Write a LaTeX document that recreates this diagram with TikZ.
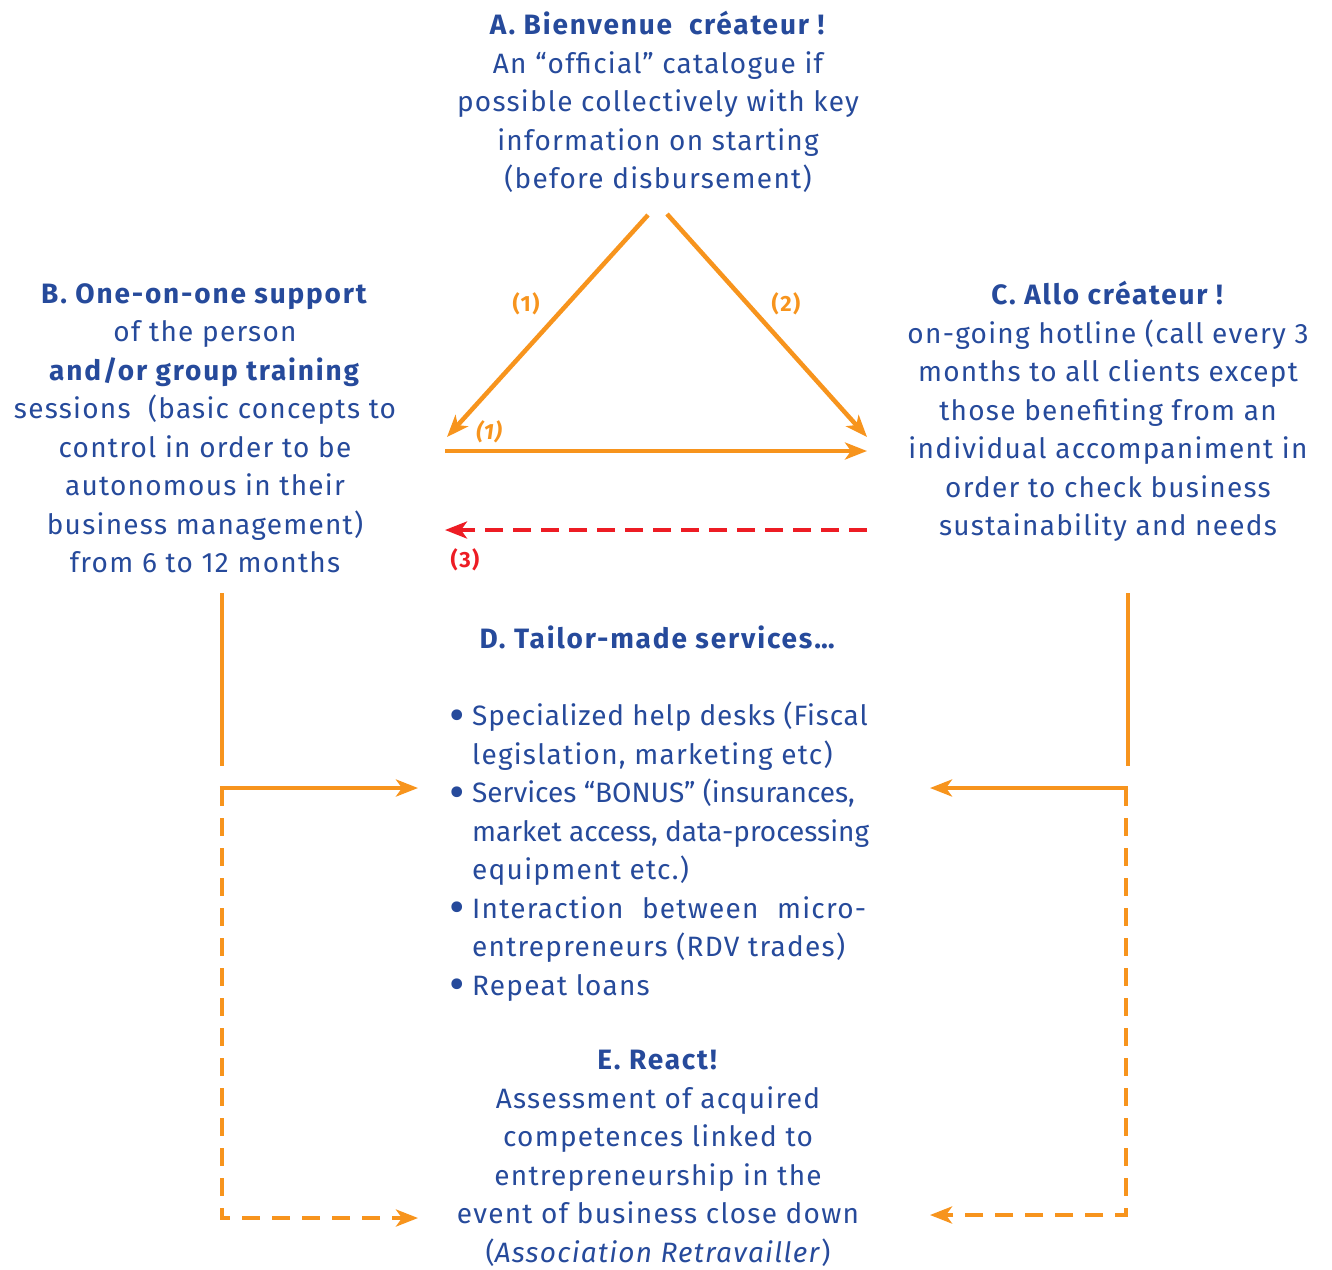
\documentclass[tikz,border=0pt]{standalone}
\usepackage{fontspec}
\setmainfont{Fira Sans}[LetterSpace=4.5,BoldFeatures={LetterSpace=6.5}]
\newfontfamily\tightfont{Fira Sans}[LetterSpace=0]
\newfontfamily\midfont{Fira Sans}[LetterSpace=3]
\usetikzlibrary{arrows.meta}
\definecolor{txtblue}{RGB}{38,74,155}
\definecolor{arrorange}{RGB}{247,148,29}
\definecolor{arrred}{RGB}{237,28,36}
\newcommand{\bul}{\makebox[25pt][l]{\hspace*{2pt}\raisebox{-5.5pt}{\scalebox{1.7}{•}}}}
\begin{document}
\begin{tikzpicture}[x=1pt,y=-1pt,
  block/.style={text=txtblue, align=center, inner sep=0pt, anchor=north, font=\fontsize{28}{38.5}\selectfont},
  listblock/.style={text=txtblue, align=left, inner sep=0pt, anchor=north west, font=\fontsize{28}{38.5}\selectfont},
  flow/.style={draw=arrorange, line width=4.5pt, -{Stealth[length=22pt,width=17pt,inset=6pt]}},
  flowplain/.style={draw=arrorange, line width=4.5pt},
  flowdash/.style={draw=arrorange, line width=4.5pt, dash pattern=on 18pt off 12pt},
  backdash/.style={draw=arrred, line width=4.5pt, dash pattern=on 18pt off 10pt, -{Stealth[length=22pt,width=17pt,inset=6pt]}},
  numlabel/.style={text=arrorange, font=\fontsize{22}{24}\selectfont\bfseries, inner sep=0pt},
]
\useasboundingbox (0,0) rectangle (1332,1269);

% text blocks
\node[block] (A) at (658,11) {\textbf{A. Bienvenue\ \ créateur !}\\An “official” catalogue if\\possible collectively with key\\information on starting\\(before disbursement)};
\node[block] (B) at (205,283) {\textbf{B. One-on-one support}\\of the person\\\textbf{and/or group training}\\sessions\ \ (basic concepts to\\control in order to be\\autonomous in their\\business management)\\from 6 to 12 months};
\node[block] (C) at (1108,281) {\textbf{C. Allo créateur !}\\on-going hotline (call every 3\\months to all clients except\\those benefiting from an\\individual accompaniment in\\order to check business\\sustainability and needs};
\node[block] (Dt) at (658,626) {\textbf{D. Tailor-made services…}};
\node[listblock] (D) at (447,702) {%
\bul{\midfont Specialized help desks (Fiscal}\\
\hspace*{25pt}legislation, marketing etc)\\
\bul{\tightfont Services “BONUS” (insurances,}\\
\hspace*{25pt}{\tightfont market access, data-processing}\\
\hspace*{25pt}equipment etc.)\\
\bul\makebox[394pt][s]{Interaction between micro-}\\
\hspace*{25pt}entrepreneurs (RDV trades)\\
\bul Repeat loans};
\node[block] (E) at (658,1050) {\textbf{E. React!}\\Assessment of acquired\\competences linked to\\entrepreneurship in the\\event of business close down\\(\textit{Association Retravailler})};

% arrow end points
\coordinate (a1s) at (648,215);
\coordinate (b1e) at (447,437);
\coordinate (a2s) at (667,214);
\coordinate (c2e) at (867,437);
\coordinate (bhs) at (445,451);
\coordinate (che) at (867,451);
\coordinate (crs) at (867,530);
\coordinate (bre) at (445,530);
\coordinate (bdown) at (222,593);
\coordinate (bstop) at (222,766);
\coordinate (bcorner) at (222,788);
\coordinate (dleft) at (418,788);
\coordinate (bbottom) at (222,1218);
\coordinate (eleft) at (418,1218);
\coordinate (cdown) at (1128,593);
\coordinate (cstop) at (1128,766);
\coordinate (ccorner) at (1126,788);
\coordinate (dright) at (930,788);
\coordinate (cbottom) at (1126,1215);
\coordinate (eright) at (930,1215);

% triangle arrows
\draw[flow] (a1s) -- (b1e);
\draw[flow] (a2s) -- (c2e);
\draw[flow] (bhs) -- (che);
\draw[backdash] (crs) -- (bre);
\node[numlabel] (l1) at (526,304) {(1)};
\node[numlabel] (l2) at (786,304) {(2)};
\node[numlabel, font=\fontsize{22}{24}\selectfont\bfseries\itshape] (l1b) at (489,432) {(1)};
\node[numlabel, text=arrred] (l3) at (465,560) {(3)};

% side connectors
\draw[flowplain] (bdown) -- (bstop);
\draw[flow] ([xshift=-2.25pt]bcorner) -- (dleft);
\draw[flowdash, -{Stealth[length=22pt,width=17pt,inset=6pt]}] (bcorner) -- (bbottom) -- (eleft);
\draw[flowplain] (cdown) -- (cstop);
\draw[flow] ([xshift=2.25pt]ccorner) -- (dright);
\draw[flowdash, -{Stealth[length=22pt,width=17pt,inset=6pt]}] (ccorner) -- (cbottom) -- (eright);
\end{tikzpicture}
\end{document}
